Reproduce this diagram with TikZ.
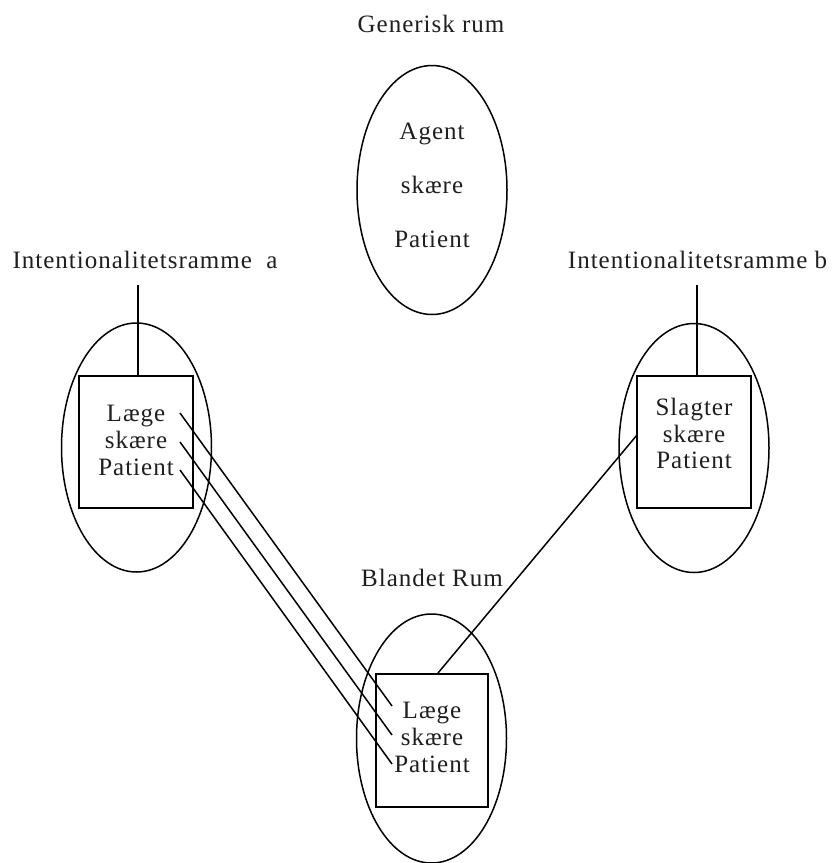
\documentclass[tikz,border=0pt]{standalone}
\usepackage{fontspec}
\setmainfont{Liberation Serif}[LetterSpace=4]
\usetikzlibrary{shapes.geometric}
\begin{document}
\begin{tikzpicture}[x=1pt,y=-1pt,
  every node/.style={inner sep=0pt, outer sep=0pt},
  lbl/.style={anchor=base, text=black!88, font=\fontsize{25}{29}\selectfont},
  space/.style={draw, line width=1.5pt, ellipse, minimum width=150pt, minimum height=249pt},
  frame/.style={draw, line width=1.8pt, rectangle},
  link/.style={line width=1.5pt}]
\useasboundingbox (0,0) rectangle (837,863);

% generic space
\node[lbl] (gtitle) at (431,32) {Generisk rum};
\node[space] (gen) at (432,190) {};
\node[lbl] (g1) at (432,139) {Agent};
\node[lbl] (g2) at (432,193) {skære};
\node[lbl] (g3) at (432,247) {Patient};

% input space a
\node[lbl] (atitle) at (145,268) {Intentionalitetsramme\ \ a};
\node[space] (ella) at (136.5,447.5) {};
\node[frame, minimum width=114pt, minimum height=132pt] (boxa) at (136,442) {};
\node[lbl] (a1) at (136,421) {Læge};
\node[lbl] (a2) at (136,448) {skære};
\node[lbl] (a3) at (136,475) {Patient};
\coordinate (ta) at (138,285);
\draw[link] (ta) -- (ta |- boxa.north);

% input space b
\node[lbl] (btitle) at (697.5,268) {Intentionalitetsramme b};
\node[space] (ellb) at (694,448) {};
\node[frame, minimum width=114pt, minimum height=132pt] (boxb) at (694,442) {};
\node[lbl] (b1) at (694,415) {Slagter};
\node[lbl] (b2) at (694,442) {skære};
\node[lbl] (b3) at (694,468) {Patient};
\coordinate (tb) at (697,285);
\draw[link] (tb) -- (tb |- boxb.north);

% blended space
\node[lbl] (ctitle) at (432,586) {Blandet Rum};
\node[space] (ellc) at (431.5,738.5) {};
\node[frame, minimum width=112pt, minimum height=133pt] (boxc) at (432,740.5) {};
\node[lbl] (c1) at (432,718) {Læge};
\node[lbl] (c2) at (432,745) {skære};
\node[lbl] (c3) at (432,772) {Patient};

% connectors
\coordinate (pa1) at (180,413);
\coordinate (pa2) at (180,442);
\coordinate (pa3) at (180,470);
\coordinate (pc1) at (392,706);
\coordinate (pc2) at (392,735);
\coordinate (pc3) at (392,764);
\coordinate (pb) at (637,435);
\coordinate (pcb) at (438,673);
\draw[link] (pa1) -- (pc1);
\draw[link] (pa2) -- (pc2);
\draw[link] (pa3) -- (pc3);
\draw[link] (pb) -- (pcb);
\end{tikzpicture}
\end{document}
